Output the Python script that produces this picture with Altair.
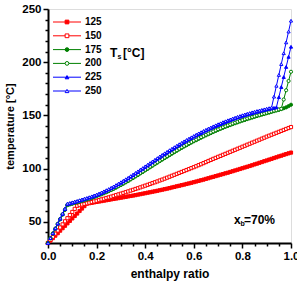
import altair as alt
import pandas as pd

series = ["125", "150", "175", "200", "225", "250"]
colors = ["#ff0000", "#ff0000", "#008000", "#008000", "#0000ff", "#0000ff"]
fills = ["#ff0000", "#ffffff", "#008000", "#ffffff", "#0000ff", "#ffffff"]
shapes = ["square", "square", "circle", "circle", "triangle-up", "triangle-up"]

x_vals = [0.00, 0.01, 0.02, 0.03, 0.04, 0.05, 0.06, 0.07, 0.08, 0.09,
          0.10, 0.11, 0.12, 0.13, 0.14, 0.15, 0.16, 0.17, 0.18, 0.19,
          0.20, 0.21, 0.22, 0.23, 0.24, 0.25, 0.26, 0.27, 0.28, 0.29,
          0.30, 0.31, 0.32, 0.33, 0.34, 0.35, 0.36, 0.37, 0.38, 0.39,
          0.40, 0.41, 0.42, 0.43, 0.44, 0.45, 0.46, 0.47, 0.48, 0.49,
          0.50, 0.51, 0.52, 0.53, 0.54, 0.55, 0.56, 0.57, 0.58, 0.59,
          0.60, 0.61, 0.62, 0.63, 0.64, 0.65, 0.66, 0.67, 0.68, 0.69,
          0.70, 0.71, 0.72, 0.73, 0.74, 0.75, 0.76, 0.77, 0.78, 0.79,
          0.80, 0.81, 0.82, 0.83, 0.84, 0.85, 0.86, 0.87, 0.88, 0.89,
          0.90, 0.91, 0.92, 0.93, 0.94, 0.95, 0.96, 0.97, 0.98, 0.99, 1.00]

t125 = [30, 32.3, 34.6, 36.9, 39.2, 41.6, 43.9, 46.2, 48.5, 50.8,
        53.1, 55.4, 57.7, 60.1, 62.4, 64.7, 67, 67.4, 67.8, 68.2,
        68.6, 69, 69.4, 69.8, 70.2, 70.6, 71, 71.4, 71.8, 72.2,
        72.6, 73, 73.4, 73.8, 74.2, 74.6, 75, 75.5, 75.9, 76.4,
        76.8, 77.3, 77.7, 78.2, 78.6, 79.1, 79.6, 80.1, 80.6, 81.1,
        81.6, 82.2, 82.7, 83.3, 83.8, 84.4, 84.9, 85.5, 86, 86.6,
        87.2, 87.8, 88.4, 89, 89.6, 90.3, 90.9, 91.6, 92.2, 92.9,
        93.5, 94.2, 94.8, 95.5, 96.1, 96.8, 97.5, 98.2, 98.9, 99.6,
        100.3, 101, 101.7, 102.4, 103.1, 103.9, 104.6, 105.4, 106.1, 106.9,
        107.6, 108.4, 109.1, 109.9, 110.6, 111.4, 112.1, 112.9, 113.6, 114.3, 115]

t150 = [30, 32.9, 35.8, 38.8, 41.7, 44.6, 47.5, 50.4, 53.3, 56.3,
        59.2, 62.1, 65, 65.6, 66.2, 66.7, 67.3, 67.9, 68.5, 69.1,
        69.7, 70.3, 71, 71.6, 72.3, 72.9, 73.6, 74.3, 75, 75.7,
        76.4, 77.1, 77.8, 78.5, 79.3, 80, 80.8, 81.5, 82.3, 83.1,
        83.9, 84.7, 85.5, 86.3, 87.1, 87.9, 88.8, 89.6, 90.5, 91.4,
        92.3, 93.2, 94.1, 95, 95.9, 96.8, 97.7, 98.6, 99.5, 100.4,
        101.3, 102.2, 103.2, 104.1, 105.1, 106.1, 107.1, 108.1, 109.1, 110,
        111, 111.9, 112.9, 113.8, 114.8, 115.7, 116.7, 117.6, 118.6, 119.5,
        120.5, 121.4, 122.4, 123.3, 124.3, 125.2, 126.2, 127.1, 128.1, 129,
        130, 130.9, 131.8, 132.7, 133.6, 134.5, 135.4, 136.3, 137.2, 138.1, 139]

t175 = [30, 34.5, 38.9, 43.4, 47.8, 52.3, 56.7, 61.2, 65.6, 66.3,
        66.9, 67.6, 68.2, 68.9, 69.5, 70.2, 70.9, 71.6, 72.4, 73.2,
        74, 74.9, 75.8, 76.7, 77.7, 78.7, 79.8, 80.9, 82.1, 83.3,
        84.5, 85.7, 87, 88.3, 89.7, 91.1, 92.5, 93.9, 95.4, 96.8,
        98.3, 99.7, 101.2, 102.6, 104.1, 105.5, 107, 108.4, 109.8, 111.2,
        112.6, 114, 115.4, 116.7, 118.1, 119.4, 120.7, 121.9, 123.2, 124.4,
        125.6, 126.7, 127.9, 129, 130.1, 131.2, 132.3, 133.3, 134.4, 135.4,
        136.4, 137.3, 138.3, 139.2, 140.1, 140.9, 141.8, 142.6, 143.4, 144.2,
        145, 145.7, 146.5, 147.2, 147.9, 148.6, 149.3, 150, 150.7, 151.3,
        152, 152.6, 153.3, 153.9, 154.6, 155.2, 155.9, 156.7, 157.5, 158.7, 160]

t200 = [30, 34.5, 39, 43.5, 48, 52.5, 57, 61.5, 66, 66.6,
        67.2, 67.9, 68.5, 69.2, 69.8, 70.5, 71.2, 71.9, 72.7, 73.5,
        74.3, 75.2, 76.1, 77.1, 78.1, 79.1, 80.2, 81.3, 82.5, 83.7,
        84.9, 86.2, 87.5, 88.8, 90.2, 91.6, 93, 94.4, 95.9, 97.3,
        98.8, 100.2, 101.7, 103.1, 104.6, 106, 107.5, 108.9, 110.4, 111.8,
        113.2, 114.6, 116, 117.3, 118.7, 120, 121.3, 122.5, 123.8, 125,
        126.2, 127.3, 128.5, 129.6, 130.7, 131.8, 132.9, 133.9, 135, 136,
        137, 137.9, 138.9, 139.8, 140.7, 141.5, 142.4, 143.2, 144, 144.8,
        145.6, 146.3, 147.1, 147.8, 148.5, 149.2, 149.9, 150.5, 151.2, 151.8,
        152.5, 153.1, 153.8, 154.4, 155, 155.6, 156.2, 164.9, 173.6, 182.3, 191]

t225 = [30, 34.6, 39.1, 43.7, 48.2, 52.8, 57.3, 61.9, 66.4, 67.1,
        67.8, 68.4, 69.1, 69.8, 70.5, 71.2, 71.9, 72.6, 73.4, 74.2,
        75, 76, 77, 78, 79.1, 80.2, 81.4, 82.6, 83.9, 85.2,
        86.5, 87.9, 89.3, 90.7, 92.2, 93.7, 95.2, 96.7, 98.3, 99.8,
        101.4, 102.9, 104.5, 106, 107.6, 109.1, 110.6, 112.1, 113.6, 115,
        116.5, 117.9, 119.3, 120.7, 122.1, 123.4, 124.8, 126.1, 127.4, 128.6,
        129.9, 131.1, 132.3, 133.4, 134.6, 135.7, 136.8, 137.8, 138.9, 139.9,
        140.9, 141.8, 142.8, 143.7, 144.6, 145.4, 146.3, 147.1, 147.9, 148.6,
        149.4, 150.1, 150.8, 151.4, 152.1, 152.7, 153.3, 153.8, 154.4, 154.9,
        155.5, 156, 156.5, 157.1, 157.6, 167.1, 176.6, 186, 195.5, 205, 214.5]

t250 = [30, 34.6, 39.2, 43.9, 48.5, 53.1, 57.7, 62.4, 67, 67.7,
        68.3, 69, 69.6, 70.3, 71, 71.7, 72.4, 73.1, 73.9, 74.7,
        75.5, 76.5, 77.5, 78.6, 79.7, 80.8, 82, 83.2, 84.5, 85.8,
        87.2, 88.6, 90, 91.4, 92.9, 94.4, 95.9, 97.4, 99, 100.5,
        102.1, 103.6, 105.2, 106.7, 108.3, 109.8, 111.4, 112.9, 114.4, 115.8,
        117.3, 118.7, 120.1, 121.5, 122.9, 124.2, 125.6, 126.9, 128.2, 129.4,
        130.7, 131.9, 133.1, 134.2, 135.4, 136.5, 137.6, 138.6, 139.7, 140.7,
        141.7, 142.6, 143.6, 144.5, 145.4, 146.2, 147.1, 147.9, 148.7, 149.4,
        150.2, 150.9, 151.6, 152.2, 152.9, 153.5, 154.1, 154.6, 155.2, 155.7,
        156.3, 156.8, 157.4, 167.6, 177.8, 188, 198.2, 208.4, 218.6, 228.8, 239]

x_ticks = [0.0, 0.2, 0.4, 0.6, 0.8, 1.0]
x_minor = [0.05, 0.1, 0.15, 0.25, 0.3, 0.35, 0.45, 0.5, 0.55, 0.65, 0.7, 0.75, 0.85, 0.9, 0.95]
y_ticks = [50, 100, 150, 200, 250]
y_minor = [30, 40, 60, 70, 80, 90, 110, 120, 130, 140, 160, 170, 180, 190, 210, 220, 230, 240]

all_t = [t125, t150, t175, t200, t225, t250]
rows = []
for name, ts in zip(series, all_t):
    for xv, tv in zip(x_vals, ts):
        rows.append({"x": xv, "T": tv, "series": name})
df = pd.DataFrame(rows)

FONT = "Liberation Sans"
xs = alt.Scale(domain=[0, 1], nice=False, zero=False)
ys = alt.Scale(domain=[30, 250], nice=False, zero=False)
cs = alt.Scale(domain=series, range=colors)
fs = alt.Scale(domain=series, range=fills)
ss = alt.Scale(domain=series, range=shapes)

common_axis = dict(grid=False, tickColor="black", domainColor="black", domainWidth=2,
                   tickWidth=1.5, labelFont=FONT, labelFontWeight="bold", labelColor="black",
                   titleFont=FONT, titleFontWeight="bold", titleColor="black")

x_axis = alt.Axis(values=x_ticks, format=".1f", title="enthalpy ratio", tickSize=5,
                  labelFontSize=11.5, titleFontSize=12, labelPadding=2, titlePadding=7,
                  labelFlush=False, labelOverlap=False, **common_axis)
y_axis = alt.Axis(values=y_ticks, format="d", title="temperature [°C]", tickSize=5,
                  labelFontSize=11.5, titleFontSize=11, labelPadding=2, titlePadding=6,
                  labelOverlap=False, **common_axis)

line = alt.Chart(df).mark_line(strokeWidth=1).encode(
    x=alt.X("x:Q", scale=xs, axis=x_axis),
    y=alt.Y("T:Q", scale=ys, axis=y_axis),
    color=alt.Color("series:N", scale=cs, legend=None),
)
pts = alt.Chart(df).mark_point(size=10, strokeWidth=1, filled=True, opacity=1).encode(
    x=alt.X("x:Q", scale=xs),
    y=alt.Y("T:Q", scale=ys),
    shape=alt.Shape("series:N", scale=ss, legend=None),
    fill=alt.Fill("series:N", scale=fs, legend=None),
    stroke=alt.Stroke("series:N", scale=cs, legend=None),
)
data_layer = alt.layer(line, pts)

minor = alt.Chart(df).mark_point(opacity=0).encode(
    x=alt.X("x:Q", scale=xs, axis=alt.Axis(values=x_minor, labels=False, title=None, tickSize=3,
                                           orient="bottom", grid=False, tickColor="black",
                                           tickWidth=1.5, domain=False)),
    y=alt.Y("T:Q", scale=ys, axis=alt.Axis(values=y_minor, labels=False, title=None, tickSize=3,
                                           orient="left", grid=False, tickColor="black",
                                           tickWidth=1.5, domain=False)),
)

leg_df = pd.DataFrame({"series": series})
leg_y = alt.Y("series:N", scale=alt.Scale(type="point", domain=series, range=[13, 82], padding=0), axis=None)
leg_rule = alt.Chart(leg_df).mark_rule(strokeWidth=1).encode(
    x=alt.value(5), x2=alt.value(33), y=leg_y,
    color=alt.Color("series:N", scale=cs, legend=None),
)
leg_pt = alt.Chart(leg_df).mark_point(size=14, strokeWidth=1, filled=True, opacity=1).encode(
    x=alt.value(19), y=leg_y,
    shape=alt.Shape("series:N", scale=ss, legend=None),
    fill=alt.Fill("series:N", scale=fs, legend=None),
    stroke=alt.Stroke("series:N", scale=cs, legend=None),
)
leg_txt = alt.Chart(leg_df).mark_text(align="left", baseline="middle", font=FONT,
                                      fontWeight="bold", fontSize=10, color="black").encode(
    x=alt.value(37), y=leg_y, text="series:N",
)

one = pd.DataFrame({"k": [0]})
def label(txt, x, y, size):
    return alt.Chart(one).mark_text(align="left", baseline="middle", font=FONT,
                                    fontWeight="bold", fontSize=size, color="black").encode(
        x=alt.value(x), y=alt.value(y), text=alt.value(txt))

anns = [
    label("T", 62, 44, 12), label("s", 69.5, 48, 7), label("[°C]", 75, 44, 12),
    label("x", 186, 211, 12), label("b", 192.5, 214.5, 7), label("=70%", 196, 211, 12),
]

chart = alt.layer(data_layer, minor, leg_rule, leg_pt, leg_txt, *anns).resolve_scale(
    x="independent", y="independent"
).properties(
    width=243, height=234,
    autosize=alt.AutoSizeParams(type="none"),
    padding={"left": 48, "top": 9, "right": 6, "bottom": 38},
).configure_view(stroke="black", strokeWidth=2).configure(background="white")

chart.save("out.html", embed_options={"renderer": "svg", "actions": False})
